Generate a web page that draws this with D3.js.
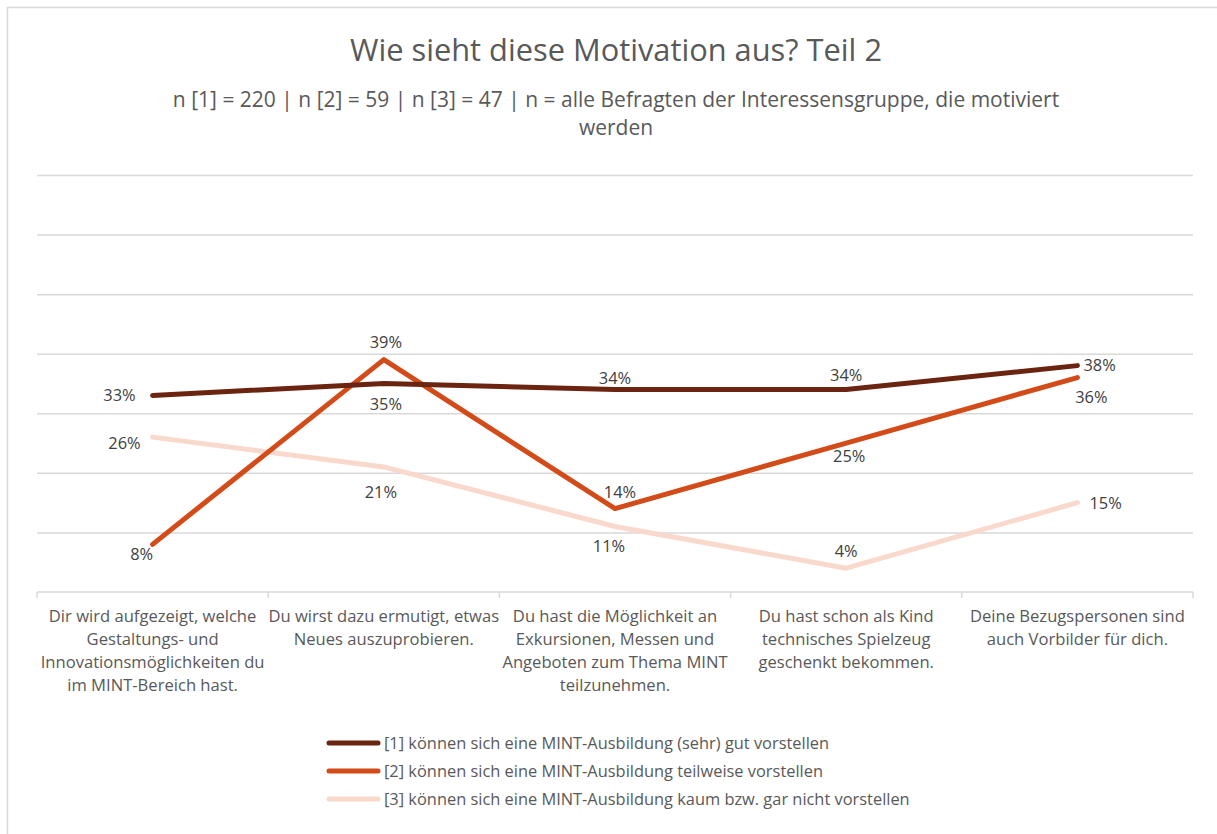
<!DOCTYPE html>
<html>
<head>
<meta charset="utf-8">
<script src="https://cdn.jsdelivr.net/npm/d3@7"></script>
<style>
  body { margin: 0; background: #fff; }
  svg { font-family: "Open Sans", Lato, sans-serif; }
</style>
</head>
<body>
<svg id="chart" width="1217" height="834"></svg>
<script>
// categories (line breaks as in the original)
var categories = [
    "Dir wird aufgezeigt, welche\nGestaltungs- und\nInnovationsmöglichkeiten du\nim MINT-Bereich hast.",
    "Du wirst dazu ermutigt, etwas\nNeues auszuprobieren.",
    "Du hast die Möglichkeit an\nExkursionen, Messen und\nAngeboten zum Thema MINT\nteilzunehmen.",
    "Du hast schon als Kind\ntechnisches Spielzeug\ngeschenkt bekommen.",
    "Deine Bezugspersonen sind\nauch Vorbilder für dich."
];
var seriesNames = [
    "[1] können sich eine MINT-Ausbildung (sehr) gut vorstellen",
    "[2] können sich eine MINT-Ausbildung teilweise vorstellen",
    "[3] können sich eine MINT-Ausbildung kaum bzw. gar nicht vorstellen"
];
var values1 = [33, 35, 34, 34, 38];
var values2 = [8, 39, 14, 25, 36];
var values3 = [26, 21, 11, 4, 15];
var yTicks = [0, 10, 20, 30, 40, 50, 60, 70];

var titleText = "Wie sieht diese Motivation aus? Teil 2";
var subtitleLines = [
    "n [1] = 220 | n [2] = 59 | n [3] = 47 | n = alle Befragten der Interessensgruppe, die motiviert",
    "werden"
];

var colors = ["#6b2410", "#d24b19", "#f9d9cc"];

// label placement per series/point: [dx, dy, anchor]
var labelPos = [
    [[-17, 6, "end"], [2, 26, "middle"], [0, -5, "middle"], [0, -8, "middle"], [6, 5, "start"]],
    [[-11, 16, "middle"], [2, -12, "middle"], [5, -11, "middle"], [3, 19, "middle"], [14, 25, "middle"]],
    [[-12, 12, "end"], [-3, 31, "middle"], [-6, 26, "middle"], [0, -11, "middle"], [12, 6, "start"]]
];

var svg = d3.select("#chart");
var W = 1217, H = 834;

// outer frame
svg.append("rect")
    .attr("x", 7.5).attr("y", 7.5)
    .attr("width", W + 10).attr("height", H + 10)
    .attr("fill", "#fff")
    .attr("stroke", "#d9d9d9")
    .attr("stroke-width", 1.5);

var plotLeft = 37, plotRight = 1193, plotTop = 175, plotBottom = 592;

var x = d3.scaleBand().domain(d3.range(categories.length)).range([plotLeft, plotRight]);
var y = d3.scaleLinear().domain([0, 70]).range([plotBottom, plotTop]);

// title
svg.append("text")
    .attr("x", 616).attr("y", 61)
    .attr("text-anchor", "middle")
    .attr("fill", "#595959")
    .style("font-size", "30.8px")
    .text(titleText);

svg.append("g").selectAll("text")
    .data(subtitleLines).enter()
    .append("text")
    .attr("x", 616)
    .attr("y", function(d, i) { return 107 + i * 28; })
    .attr("text-anchor", "middle")
    .attr("fill", "#595959")
    .style("font-size", "21px")
    .text(function(d) { return d; });

// gridlines
var grid = svg.append("g")
    .attr("transform", "translate(" + plotLeft + ",0)")
    .call(d3.axisLeft(y).tickValues(yTicks.slice(1)).tickSize(-(plotRight - plotLeft)).tickFormat(""));
grid.select(".domain").remove();
grid.selectAll("line").attr("stroke", "#d9d9d9").attr("stroke-width", 1.5);

// x axis line + boundary ticks
svg.append("line")
    .attr("x1", plotLeft).attr("x2", plotRight)
    .attr("y1", y(0)).attr("y2", y(0))
    .attr("stroke", "#d9d9d9").attr("stroke-width", 1.5);

var bounds = d3.range(categories.length).map(function(i) { return x(i); }).concat([plotRight]);
svg.append("g").selectAll("line")
    .data(bounds).enter()
    .append("line")
    .attr("x1", function(d) { return d; }).attr("x2", function(d) { return d; })
    .attr("y1", y(0)).attr("y2", y(0) + 6)
    .attr("stroke", "#d9d9d9").attr("stroke-width", 1.5);

// category labels
var catG = svg.append("g").selectAll("text")
    .data(categories).enter()
    .append("text")
    .attr("text-anchor", "middle")
    .attr("fill", "#595959")
    .style("font-size", "16.6px");
catG.selectAll("tspan")
    .data(function(d, i) { return d.split("\n").map(function(s) { return {s: s, i: i}; }); })
    .enter().append("tspan")
    .attr("x", function(d) { return x(d.i) + x.bandwidth() / 2; })
    .attr("y", function(d, j) { return 622 + j * 23; })
    .text(function(d) { return d.s; });

// lines
var allSeries = [values1, values2, values3];
var line = d3.line()
    .x(function(d, i) { return x(i) + x.bandwidth() / 2; })
    .y(function(d) { return y(d); });

// draw the lightest series first so the dark ones sit on top
[2, 1, 0].forEach(function(s) {
    svg.append("path")
        .datum(allSeries[s])
        .attr("d", line)
        .attr("fill", "none")
        .attr("stroke", colors[s])
        .attr("stroke-width", 5)
        .attr("stroke-linecap", "round")
        .attr("stroke-linejoin", "round");
});

// data labels
allSeries.forEach(function(vals, s) {
    svg.append("g").selectAll("text")
        .data(vals).enter()
        .append("text")
        .attr("x", function(d, i) { return x(i) + x.bandwidth() / 2 + labelPos[s][i][0]; })
        .attr("y", function(d, i) { return y(d) + labelPos[s][i][1]; })
        .attr("text-anchor", function(d, i) { return labelPos[s][i][2]; })
        .attr("fill", "#404040")
        .style("font-size", "16.4px")
        .text(function(d) { return d + "%"; });
});

// legend
var leg = svg.append("g").selectAll("g")
    .data(seriesNames).enter()
    .append("g")
    .attr("transform", function(d, i) { return "translate(0," + (743 + i * 28) + ")"; });
leg.append("line")
    .attr("x1", 329).attr("x2", 378)
    .attr("stroke", function(d, i) { return colors[i]; })
    .attr("stroke-width", 5)
    .attr("stroke-linecap", "round");
leg.append("text")
    .attr("x", 384).attr("y", 5.5)
    .attr("fill", "#595959")
    .style("font-size", "16.4px")
    .text(function(d) { return d; });
</script>
</body>
</html>
